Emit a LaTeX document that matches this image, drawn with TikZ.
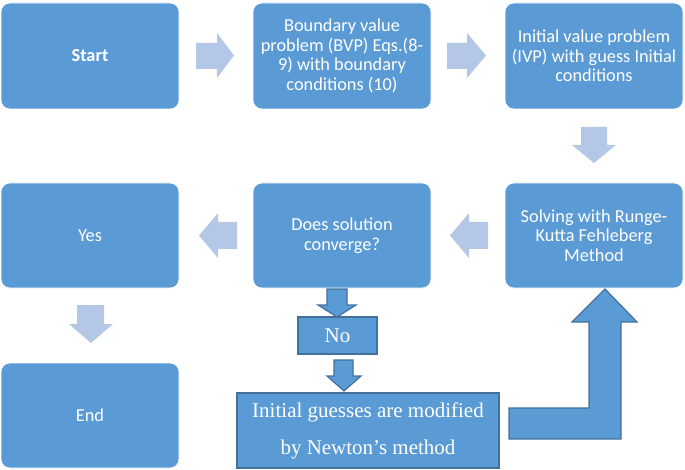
\documentclass[tikz,border=0pt]{standalone}
\usepackage{fontspec}
\setmainfont{Carlito}
\newfontfamily\timesfont{Liberation Serif}
\definecolor{boxblue}{HTML}{5B9BD5}
\definecolor{lightarr}{HTML}{B4C7E7}
\definecolor{darkedge}{HTML}{41719C}
\begin{document}
\begin{tikzpicture}[x=1pt,y=-1pt,
  rbox/.style={fill=boxblue, draw=white, line width=0.6pt, rounded corners=9pt, minimum width=178pt, minimum height=106pt, text=white, align=center, inner sep=0pt, font=\fontsize{18.3}{19.6}\selectfont},
  sbox/.style={fill=boxblue, draw=darkedge, line width=1.2pt, text=white, align=center, inner sep=0pt, font=\timesfont\fontsize{21}{37}\selectfont},
  larrow/.style={fill=lightarr},
  darrow/.style={fill=boxblue, draw=darkedge, line width=1.2pt, line join=miter}]
\useasboundingbox (0,0) rectangle (685,470);
% boxes
\node[rbox] (start) at (90,56) {\textbf{Start}};
\node[rbox] (bvp) at (342,56) {Boundary value\\problem (BVP) Eqs.(8-\\9) with boundary\\conditions (10)};
\node[rbox] (ivp) at (594,56) {Initial value problem\\(IVP) with guess Initial\\conditions};
\node[rbox, minimum height=105pt] (rkf) at (594,235.5) {Solving with Runge-\\Kutta Fehleberg\\Method};
\node[rbox, minimum height=105pt] (conv) at (342,235.5) {Does solution\\converge?};
\node[rbox, minimum height=105pt] (yes) at (90,235.5) {Yes};
\node[rbox, minimum height=105pt] (end) at (90,415.5) {End};
\node[sbox, minimum width=79pt, minimum height=37pt] (no) at (337.5,335.5) {No};
\node[sbox, minimum width=262pt, minimum height=75pt] (newton) at (368,430.5) {Initial guesses are modified\\by Newton’s method};
% light block arrows
\fill[larrow] (196,43) -- (217,43) -- (217,33) -- (234,55.5) -- (217,78) -- (217,69) -- (196,69) -- cycle;
\fill[larrow] (447,43) -- (467,43) -- (467,33) -- (486,55.5) -- (467,78) -- (467,69) -- (447,69) -- cycle;
\fill[larrow] (581,127) -- (607,127) -- (607,145) -- (616,145) -- (594,163) -- (572,145) -- (581,145) -- cycle;
\fill[larrow] (488,222) -- (469,222) -- (469,213) -- (450,235.5) -- (469,258) -- (469,249) -- (488,249) -- cycle;
\fill[larrow] (237,222) -- (218,222) -- (218,213) -- (199,235.5) -- (218,258) -- (218,249) -- (237,249) -- cycle;
\fill[larrow] (77,305) -- (104,305) -- (104,324) -- (113,324) -- (91,343) -- (69,324) -- (77,324) -- cycle;
% dark block arrows
\draw[darrow] (327,289) -- (347,289) -- (347,305) -- (356,305) -- (337,317) -- (318,305) -- (327,305) -- cycle;
\draw[darrow] (334,360) -- (353,360) -- (353,376) -- (361,376) -- (344,391) -- (327,376) -- (334,376) -- cycle;
\draw[darrow] (509,408) -- (589,408) -- (589,322) -- (572,322) -- (605,289) -- (637,322) -- (621,322) -- (621,439) -- (509,439) -- cycle;
\end{tikzpicture}
\end{document}
